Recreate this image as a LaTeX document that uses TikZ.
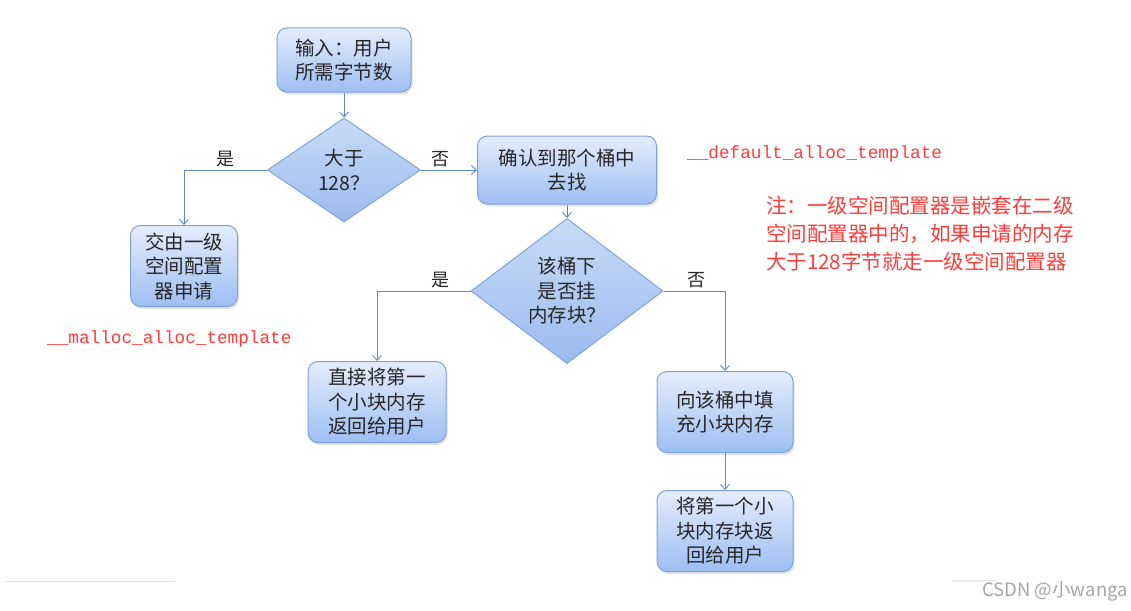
\documentclass[tikz,border=0pt]{standalone}
\usepackage{fontspec}
\setmainfont{Noto Sans CJK SC}
\newfontfamily\mycodefont{Liberation Mono}
\usetikzlibrary{shapes.geometric,arrows.meta,shadows}
\definecolor{boxtop}{HTML}{E4EDFC}
\definecolor{boxbot}{HTML}{9EBEF2}
\definecolor{dectop}{HTML}{C9DBF7}
\definecolor{decbot}{HTML}{9BBBEE}
\definecolor{boxedge}{HTML}{7FA3D9}
\definecolor{linec}{HTML}{5C8ACB}
\definecolor{codered}{HTML}{FF3C3C}
\newcommand\myboxfont{\fontsize{19.5}{24.5}\selectfont}
\newcommand\mylblfont{\fontsize{18}{20}\selectfont}
\begin{document}
\begin{tikzpicture}[x=1pt,y=-1pt,
  procbox/.style={draw=boxedge, line width=1pt, rounded corners=10pt,
    top color=boxtop, bottom color=boxbot, align=center, inner sep=0pt,
    font=\myboxfont, text=black!85,
    drop shadow={opacity=0.22, shadow xshift=1.5pt, shadow yshift=-2.5pt}},
  decbox/.style={diamond, draw=boxedge, line width=1pt,
    top color=dectop, bottom color=decbot, align=center, inner sep=0pt,
    font=\myboxfont, text=black!85},
  flow/.style={draw=linec, line width=0.9pt, -{Straight Barb[length=5pt,width=9pt]}},
  lbl/.style={font=\mylblfont, inner sep=3pt, text=black!85},
  code/.style={font=\mycodefont\fontsize{17.7}{20}\selectfont, text=codered, inner sep=0pt},
  note/.style={font=\fontsize{20.5}{28}\selectfont, text=codered, align=left, inner sep=0pt}
]
\fill[white] (0,0) rectangle (1131,610);
\useasboundingbox (0,0) rectangle (1131,610);

% nodes
\node[procbox, minimum width=134pt, minimum height=64pt] (in) at (344,60) {输入：用户\\所需字节数};
\node[decbox, minimum width=153pt, minimum height=104pt] (d1) at (344,170) {大于\\128？};
\node[procbox, minimum width=107pt, minimum height=81pt] (b1) at (184,266) {交由一级\\空间配置\\器申请};
\node[procbox, minimum width=179pt, minimum height=68pt] (find) at (567,170) {确认到那个桶中\\去找};
\node[decbox, minimum width=192pt, minimum height=110pt] (d2) at (567,291) {该桶下\\是否挂\\内存块？};
\node[procbox, minimum width=138pt, minimum height=81pt] (direct) at (377,402) {直接将第一\\个小块内存\\返回给用户};
\node[procbox, minimum width=136pt, minimum height=81pt] (fill) at (725,412) {向该桶中填\\充小块内存};
\node[procbox, minimum width=136pt, minimum height=81pt] (ret) at (725,531) {将第一个小\\块内存块返\\回给用户};

% red annotations
\node[code, anchor=west] (def) at (687,154) {\_\_default\_alloc\_template};
\node[code, anchor=west] (mal) at (47,339) {\_\_malloc\_alloc\_template};
\node[note, anchor=north west] (nt) at (766,196) {注：一级空间配置器是嵌套在二级\\空间配置器中的，如果申请的内存\\大于128字节就走一级空间配置器};

% connectors
\draw[flow] (in) -- (d1);
\draw[flow] (d1.west) -| node[lbl, pos=0.25, above] (l1) {是} (b1.north);
\draw[flow] (d1.east) -- node[lbl, pos=0.35, above] (l2) {否} (find.west);
\draw[flow] (find) -- (d2);
\draw[flow] (d2.west) -| node[lbl, pos=0.16, above] (l3) {是} (direct.north);
\draw[flow] (d2.east) -| node[lbl, pos=0.27, above] (l4) {否} (fill.north);
\draw[flow] (fill) -- (ret);

% bottom artefacts and watermark
\draw[black!12, line width=1pt] (6,581) -- (175,581);
\draw[black!12, line width=1pt] (952,580) -- (997,580);
\node[anchor=east, inner sep=0pt, font=\fontsize{18.5}{20}\selectfont, text=black!35] (wm) at (1128,591) {CSDN @小wanga};
\end{tikzpicture}
\end{document}
